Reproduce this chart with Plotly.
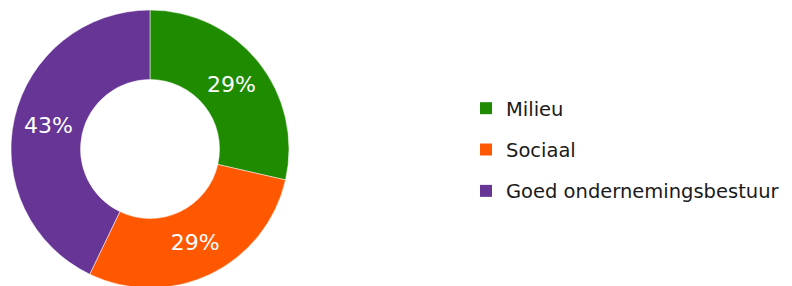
import plotly.graph_objects as go

labels = ["Milieu", "Sociaal", "Goed ondernemingsbestuur"]
values = [2, 2, 3]
colors = ["#1f8b00", "#ff5800", "#663596"]

fig = go.Figure()
fig.add_trace(go.Pie(
    labels=labels, values=values, sort=False, direction="clockwise", rotation=0,
    hole=0.5, marker=dict(colors=colors, line=dict(color="white", width=0.5)),
    texttemplate="%{percent:.0%}", textposition="inside", insidetextorientation="horizontal",
    textfont=dict(family="DejaVu Sans", size=22, color="white"),
    domain=dict(x=[3/792, 281/792], y=[6/286, 284/286]),
    showlegend=False, hoverinfo="label+percent",
))
for lab, col in zip(labels, colors):
    fig.add_trace(go.Scatter(
        x=[None], y=[None], mode="markers", name=lab, legendgroup=lab,
        marker=dict(symbol="square", size=12, color=col, line=dict(width=0)),
        showlegend=True,
    ))

fig.update_layout(
    width=792, height=286, margin=dict(l=0, r=0, t=0, b=0),
    paper_bgcolor="white", plot_bgcolor="white",
    xaxis=dict(visible=False), yaxis=dict(visible=False),
    legend=dict(x=458/792, xanchor="left", y=0.5035, yanchor="middle",
                font=dict(family="DejaVu Sans", size=19.5, color="#1a1a1a"),
                tracegroupgap=13, bgcolor="rgba(0,0,0,0)"),
)
fig.write_html("out.html")
